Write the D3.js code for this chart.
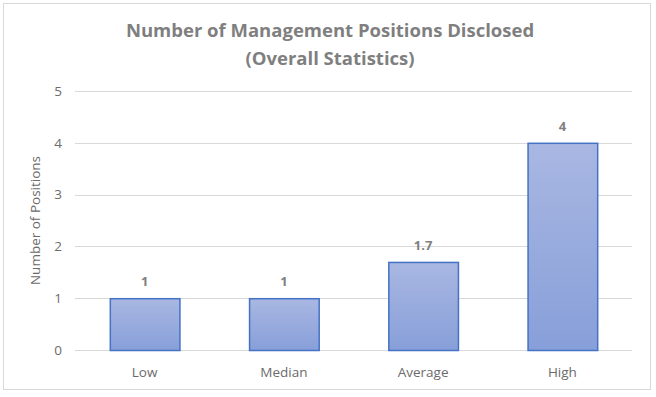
<!DOCTYPE html>
<html>
<head>
<meta charset="utf-8">
<script src="https://cdn.jsdelivr.net/npm/d3@7"></script>
<style>
  body { margin: 0; background: #fff; }
  svg, svg text { font-family: "Open Sans", "Liberation Sans", sans-serif; }
</style>
</head>
<body>
<svg id="chart" width="656" height="397"></svg>
<script>
// chart data
const categories = ["Low", "Median", "Average", "High"];
const values = [1, 1, 1.7, 4];
const yTicks = [0, 1, 2, 3, 4, 5];

const width = 656, height = 397;
const margin = {top: 91, right: 24, bottom: 47, left: 75};

const svg = d3.select("#chart");

// outer border
svg.append("rect")
    .attr("x", 3.5).attr("y", 3.5)
    .attr("width", 647).attr("height", 386)
    .attr("fill", "#fff")
    .attr("stroke", "#d9d9d9");

// gradient for bars
const grad = svg.append("defs").append("linearGradient")
    .attr("id", "barGrad")
    .attr("x1", 0).attr("y1", 0).attr("x2", 0).attr("y2", 1);
grad.append("stop").attr("offset", "0%").attr("stop-color", "#a9b7e2");
grad.append("stop").attr("offset", "100%").attr("stop-color", "#879fd9");

const x = d3.scaleBand()
    .domain(categories)
    .range([margin.left, width - margin.right])
    .paddingInner(0.5)
    .paddingOuter(0.25);

const y = d3.scaleLinear()
    .domain([0, 5])
    .range([height - margin.bottom, margin.top]);

// grid lines
svg.append("g")
    .selectAll("line")
    .data(yTicks)
    .join("line")
    .attr("x1", margin.left)
    .attr("x2", width - margin.right)
    .attr("y1", d => Math.round(y(d)) + 0.5)
    .attr("y2", d => Math.round(y(d)) + 0.5)
    .attr("stroke", "#d9d9d9")
    .attr("stroke-width", 1);

// y axis labels
const yAxis = d3.axisLeft(y).tickValues(yTicks).tickFormat(d3.format("d")).tickSize(0).tickPadding(13);
svg.append("g")
    .attr("transform", "translate(" + margin.left + ",0)")
    .call(yAxis)
    .attr("font-family", null)
    .call(g => g.select(".domain").remove())
    .selectAll("text")
    .attr("fill", "#6b6b6b")
    .attr("font-size", 13.5);

// x axis labels
const xAxis = d3.axisBottom(x).tickSize(0).tickPadding(17);
svg.append("g")
    .attr("transform", "translate(0," + (height - margin.bottom) + ")")
    .call(xAxis)
    .attr("font-family", null)
    .call(g => g.select(".domain").remove())
    .selectAll("text")
    .attr("fill", "#6b6b6b")
    .attr("font-size", 13.5);

// bars
svg.append("g")
    .selectAll("rect")
    .data(values)
    .join("rect")
    .attr("x", (d, i) => x(categories[i]) + 0.5)
    .attr("y", d => y(d) + 0.5)
    .attr("width", x.bandwidth())
    .attr("height", d => y(0) - y(d))
    .attr("fill", "url(#barGrad)")
    .attr("stroke", "#4472c4")
    .attr("stroke-width", 1.5);

// data labels
svg.append("g")
    .selectAll("text")
    .data(values)
    .join("text")
    .attr("x", (d, i) => x(categories[i]) + x.bandwidth() / 2)
    .attr("y", d => y(d) - 12)
    .attr("text-anchor", "middle")
    .attr("font-size", 13)
    .attr("font-weight", "bold")
    .attr("fill", "#7f7f7f")
    .text(d => d);

// y axis title
svg.append("text")
    .attr("transform", "translate(40," + ((y(0) + y(5)) / 2) + ") rotate(-90)")
    .attr("text-anchor", "middle")
    .attr("font-size", 13.5)
    .attr("fill", "#6b6b6b")
    .text("Number of Positions");

// title
const title = svg.append("text")
    .attr("text-anchor", "middle")
    .attr("font-size", 18.5)
    .attr("font-weight", "bold")
    .attr("fill", "#7f7f7f");
title.append("tspan").attr("x", 330).attr("y", 37).text("Number of Management Positions Disclosed");
title.append("tspan").attr("x", 330).attr("y", 65).text("(Overall Statistics)");
</script>
</body>
</html>
